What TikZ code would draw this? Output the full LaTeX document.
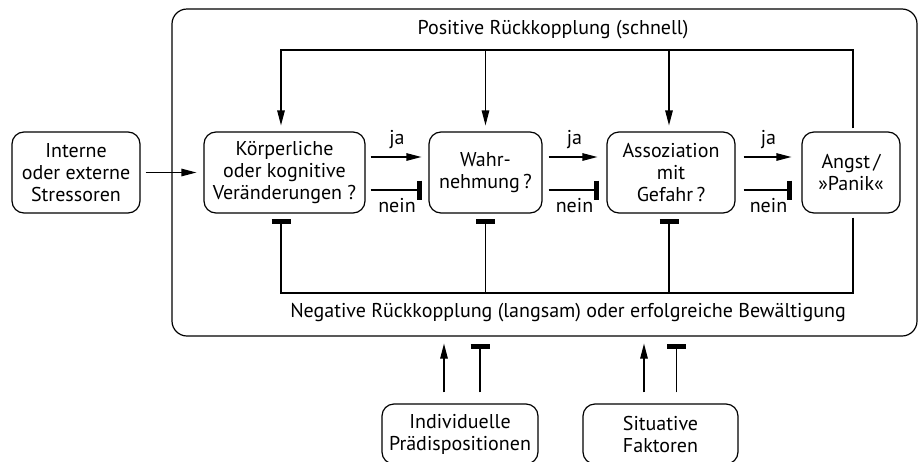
\documentclass[tikz,border=0pt]{standalone}
\usepackage{fontspec}
\setmainfont{PT Sans}
\usetikzlibrary{arrows.meta,calc}
\newcommand{\fsz}{\fontsize{20}{22}\selectfont}
\tikzset{
  lw/.style={line width=1.2pt},
  box/.style={draw, lw, rounded corners=12pt, align=center, font=\fsz, inner sep=0pt, minimum height=81pt},
  lbl/.style={font=\fsz, inner sep=0pt},
  arr/.style={lw, -{Triangle[length=15pt,width=7.5pt]}},
  inh/.style={lw, -{Bar[width=19pt,line width=5.5pt]}},
}
\begin{document}
\begin{tikzpicture}[x=1pt,y=-1pt]
\useasboundingbox (0,0) rectangle (919,461);
% frame
\node[draw, lw, rounded corners=15pt, minimum width=745pt, minimum height=327pt, inner sep=0pt] (frame) at (544.5,172.5) {};
% boxes
\node[box, minimum width=128pt] (stress) at (76,172.5) {Interne\\oder externe\\Stressoren};
\node[box, minimum width=161pt] (koerp) at (284.5,172.5) {Körperliche\\oder kognitive\\Veränderungen ?};
\node[box, minimum width=113pt] (wahr) at (485.5,172.5) {Wahr-\\nehmung\,?};
\node[box, minimum width=128pt] (assoz) at (671,172.5) {Assoziation\\mit\\Gefahr\,?};
\node[box, minimum width=98pt] (angst) at (851,172.5) {Angst\,/\\»Panik«};
\node[box, minimum width=156pt, minimum height=60pt] (indiv) at (460,434) {Individuelle\\Prädispositionen};
\node[box, minimum width=155pt, minimum height=60pt] (situ) at (660.5,434) {Situative\\Faktoren};
% texts
\node[lbl] (pos) at (553,30) {Positive Rückkopplung (schnell)};
\node[lbl] (neg) at (568,313) {Negative Rückkopplung (langsam) oder erfolgreiche Bewältigung};
% coordinates of feedback lines
\coordinate (ftop) at (281,50);
\coordinate (fbot) at (281,293);
% input
\draw[arr, shorten <=5pt, shorten >=7pt] (stress.east) -- (koerp.east -| koerp.west);
% ja / nein
\draw[arr, shorten <=5pt, shorten >=7pt] ([yshift=15.5pt]koerp.east) -- node[lbl, above=8pt] (ja1) {ja} ([yshift=15.5pt]wahr.west);
\draw[inh, shorten <=5pt, shorten >=6pt] ([yshift=-17.5pt]koerp.east) -- node[lbl, below=8pt] (nein1) {nein} ([yshift=-17.5pt]wahr.west);
\draw[arr, shorten <=6pt, shorten >=9pt] ([yshift=15.5pt]wahr.east) -- node[lbl, above=8pt] (ja2) {ja} ([yshift=15.5pt]assoz.west);
\draw[inh, shorten <=6pt, shorten >=7pt] ([yshift=-17.5pt]wahr.east) -- node[lbl, below=8pt] (nein2) {nein} ([yshift=-17.5pt]assoz.west);
\draw[arr, shorten <=8pt, shorten >=10pt] ([yshift=15.5pt]assoz.east) -- node[lbl, above=8pt] (ja3) {ja} ([yshift=15.5pt]angst.west);
\draw[inh, shorten <=8pt, shorten >=9pt] ([yshift=-17.5pt]assoz.east) -- node[lbl, below=8pt] (nein3) {nein} ([yshift=-17.5pt]angst.west);
% positive feedback
\draw[arr, shorten <=3pt, shorten >=6pt] ([xshift=2pt]angst.north) |- (ftop) -| ([xshift=-3.5pt]koerp.north);
\draw[arr, shorten >=6pt] (wahr.north |- ftop) -- (wahr.north);
\draw[arr, shorten >=6pt] ([xshift=-2pt]assoz.north |- ftop) -- ([xshift=-2pt]assoz.north);
% negative feedback
\draw[inh, shorten <=4pt, shorten >=5pt] ([xshift=2pt]angst.south) |- (fbot) -| ([xshift=-3.5pt]koerp.south);
\draw[inh, shorten >=5pt] (wahr.south |- fbot) -- (wahr.south);
\draw[inh, shorten >=5pt] ([xshift=-2pt]assoz.south |- fbot) -- ([xshift=-2pt]assoz.south);
% external factors
\draw[arr, shorten <=11pt, shorten >=7pt] ([xshift=-16pt]indiv.north) -- ([xshift=-16pt]indiv.north |- frame.south);
\draw[inh, shorten <=11pt, shorten >=7pt] ([xshift=20pt]indiv.north) -- ([xshift=20pt]indiv.north |- frame.south);
\draw[arr, shorten <=11pt, shorten >=7pt] ([xshift=-16.5pt]situ.north) -- ([xshift=-16.5pt]situ.north |- frame.south);
\draw[inh, shorten <=11pt, shorten >=7pt] ([xshift=16pt]situ.north) -- ([xshift=16pt]situ.north |- frame.south);
\end{tikzpicture}
\end{document}
